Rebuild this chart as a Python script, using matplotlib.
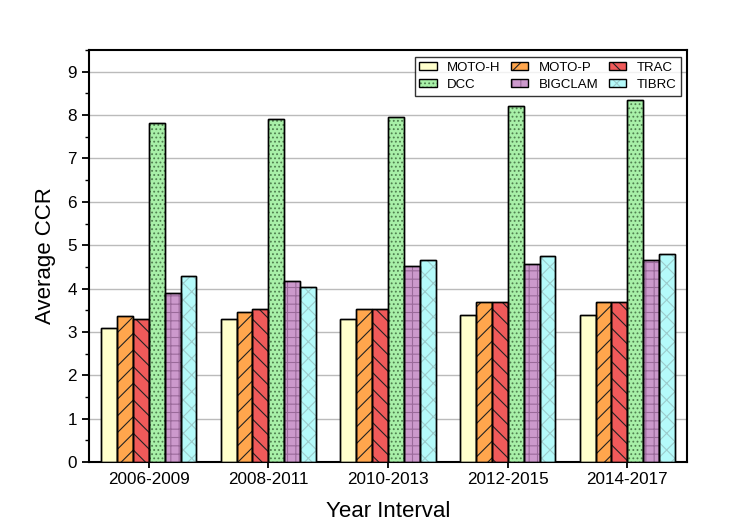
import numpy as np
import matplotlib
matplotlib.use("Agg")
import matplotlib.pyplot as plt
from matplotlib.ticker import MultipleLocator

plt.rcParams['font.family'] = ['Liberation Sans', 'DejaVu Sans']
plt.rcParams['hatch.linewidth'] = 0.8

intervals = ["2006-2009", "2008-2011", "2010-2013", "2012-2015", "2014-2017"]
methods = ["MOTO-H", "MOTO-P", "TRAC", "DCC", "BIGCLAM", "TIBRC"]

moto_h = [3.09, 3.30, 3.30, 3.39, 3.39]
moto_p = [3.37, 3.45, 3.53, 3.70, 3.70]
trac = [3.29, 3.53, 3.53, 3.68, 3.70]
dcc = [7.81, 7.91, 7.95, 8.21, 8.34]
bigclam = [3.90, 4.17, 4.52, 4.56, 4.66]
tibrc = [4.30, 4.03, 4.67, 4.75, 4.80]

series = [moto_h, moto_p, trac, dcc, bigclam, tibrc]
colors = ["#FFFFCC", "#FFA64D", "#F05A5A", "#A8F0A8", "#CC99CC", "#B4FAFA"]
hatches = ["", "//", "\\\\", "....", "++", "xx"]
hatch_colors = ["black", "#222222", "#222222", "#4f7f4f", "#9a6a9a", "#9CCCCC"]

fig = plt.figure(figsize=(7.47, 5.22), dpi=100)
ax = fig.add_axes([0.119, 0.115, 0.801, 0.789])

x = np.arange(len(intervals))
w = 0.133
handles = []
for i, vals in enumerate(series):
    pos = x + (i - 2.5) * w
    bars = ax.bar(pos, vals, w, color=colors[i], edgecolor="black",
                  linewidth=1.0, label=methods[i], zorder=3)
    for b in bars:
        b.set_hatch(hatches[i])
        b._hatch_color = matplotlib.colors.to_rgba(hatch_colors[i])
    handles.append(bars)
    # black outline on top of the hatch
    ax.bar(pos, vals, w, color="none", edgecolor="black", linewidth=1.0, zorder=4)

ax.set_xlim(-0.5, 4.5)
ax.set_ylim(0, 9.5)
ax.set_xticks(x)
ax.set_xticklabels(intervals)
ax.yaxis.set_major_locator(MultipleLocator(1))
ax.yaxis.set_minor_locator(MultipleLocator(0.5))
ax.tick_params(axis="both", labelsize=12.3, direction="out", width=1.3)
ax.tick_params(axis="y", which="major", length=5)
ax.tick_params(axis="y", which="minor", length=3, width=1.0)
ax.tick_params(axis="x", length=4)
ax.grid(axis="y", color="#BBBBBB", linewidth=1.0, zorder=0)
ax.set_axisbelow(True)
for s in ax.spines.values():
    s.set_linewidth(1.5)

ax.set_xlabel("Year Interval", fontsize=16, labelpad=10)
ax.set_ylabel("Average CCR", fontsize=16, labelpad=8)

# row-wise legend order
order = [0, 3, 1, 4, 2, 5]
leg = ax.legend([handles[k] for k in order], [methods[k] for k in order],
                ncol=3, loc="upper right", bbox_to_anchor=(0.99, 0.983),
                borderaxespad=0, fontsize=9.5, frameon=True, fancybox=False,
                edgecolor="black", handlelength=1.3, handleheight=0.55,
                columnspacing=0.8, handletextpad=0.8, borderpad=0.35,
                labelspacing=0.4)
leg.get_frame().set_linewidth(1.0)
leg.set_zorder(6)

fig.savefig("out.png", dpi=100)
